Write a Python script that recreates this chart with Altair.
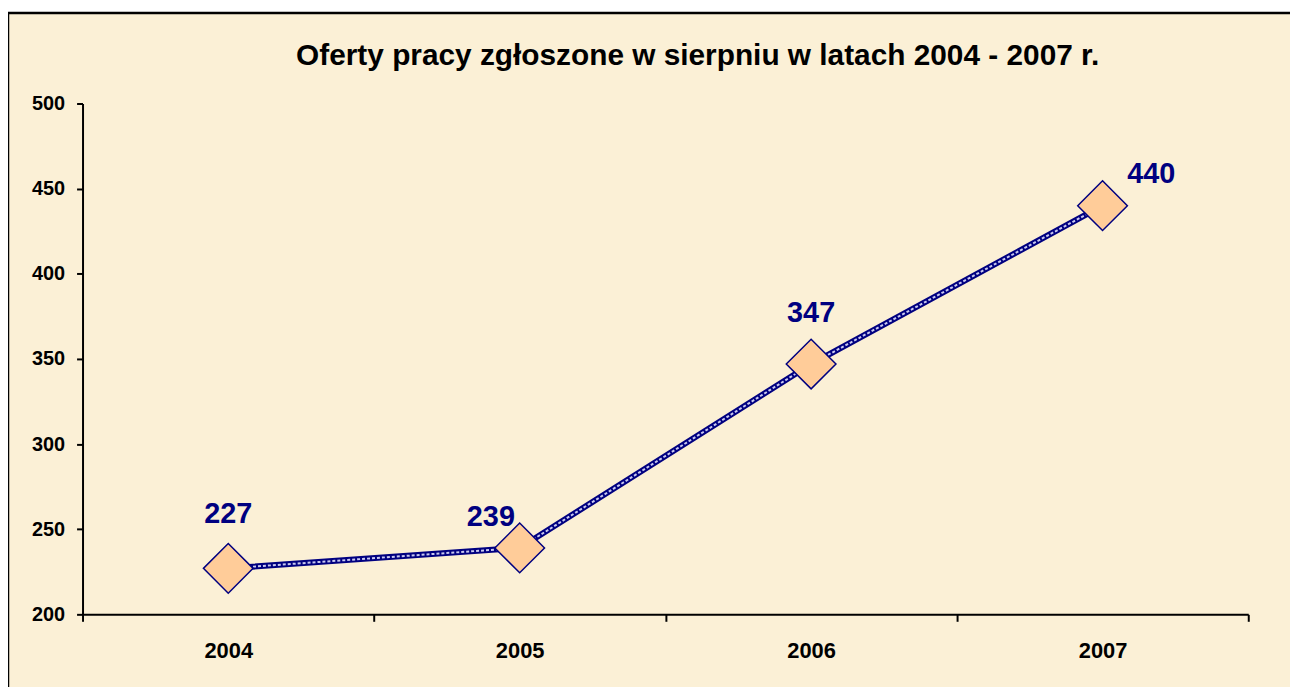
import altair as alt
import pandas as pd

years = ["2004", "2005", "2006", "2007"]
offers = [227, 239, 347, 440]
y_ticks = [200, 250, 300, 350, 400, 450, 500]
title_text = "Oferty pracy zgłoszone w sierpniu w latach 2004 - 2007 r."

df = pd.DataFrame({"rok": years, "oferty": offers})

NAVY = "#000080"
PEACH = "#FFCC99"
PAPER = "#FBF0D6"
FONT = "Liberation Sans"

x_enc = alt.X(
    "rok:N", sort=years,
    scale=alt.Scale(type="band", paddingInner=0, paddingOuter=0),
    axis=alt.Axis(title=None, labelAngle=0, labelFontSize=22, labelFontWeight="bold",
                  labelColor="black", labelFont=FONT, labelPadding=19,
                  tickBand="extent", tickSize=7, tickWidth=2, tickColor="black",
                  domainColor="black", domainWidth=2, grid=False, zindex=1),
)
y_enc = alt.Y(
    "oferty:Q",
    scale=alt.Scale(domain=[200, 500], nice=False, zero=False),
    axis=alt.Axis(title=None, values=y_ticks, labelFontSize=20, labelFontWeight="bold",
                  labelColor="black", labelFont=FONT, labelPadding=12,
                  tickSize=6, tickWidth=2, tickColor="black",
                  domainColor="black", domainWidth=2, grid=False, zindex=1),
)

frame = alt.Chart(pd.DataFrame({"k": [0]})).mark_rect(
    fill=PAPER, stroke="black", strokeWidth=2.5
).encode(x=alt.value(-75), x2=alt.value(1400), y=alt.value(-91), y2=alt.value(800))

title = alt.Chart(pd.DataFrame({"t": [title_text]})).mark_text(
    font=FONT, fontSize=30, fontWeight="bold", color="black",
    align="center", baseline="alphabetic"
).encode(x=alt.value(619), y=alt.value(-39), text="t:N")

base = alt.Chart(df)
line_outer = base.mark_line(color=NAVY, strokeWidth=6).encode(x=x_enc, y=y_enc)
line_inner = base.mark_line(color="#C8C8F0", strokeWidth=2, strokeDash=[3, 2]).encode(x=x_enc, y=y_enc)
points = base.mark_point(shape="diamond", size=2500, filled=True, fill=PEACH, stroke=NAVY,
                         strokeWidth=1.5, opacity=1).encode(x=x_enc, y=y_enc)

offsets = {"2004": (0, -55), "2005": (-29, -31), "2006": (0, -51), "2007": (49, -32)}
labels = []
for yr in years:
    dx, dy = offsets[yr]
    labels.append(
        base.transform_filter(alt.datum.rok == yr).mark_text(
            font=FONT, fontSize=29, fontWeight="bold", color=NAVY,
            dx=dx, dy=dy, baseline="middle", align="center"
        ).encode(x=x_enc, y=y_enc, text="oferty:Q")
    )

chart = alt.layer(frame, title, line_outer, line_inner, points, *labels).properties(
    width=1173, height=514,
    padding={"left": 75, "top": 94, "right": 42, "bottom": 71},
    autosize=alt.AutoSizeParams(type="none"),
    background="white",
).configure_view(stroke=None)

chart.save("out.html", embed_options={"renderer": "svg", "actions": False})
